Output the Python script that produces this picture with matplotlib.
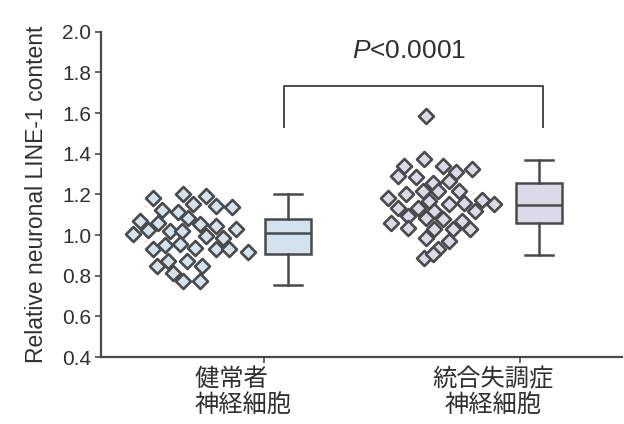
import matplotlib
matplotlib.use("Agg")
import matplotlib.pyplot as plt

plt.rcParams['font.family'] = ['Liberation Sans', 'Noto Sans CJK JP']
plt.rcParams['mathtext.fontset'] = 'custom'
plt.rcParams['mathtext.it'] = 'Liberation Sans:italic'
plt.rcParams['mathtext.rm'] = 'Liberation Sans'

# ---- data ----
categories = ["健常者　\n神経細胞", "統合失調症\n神経細胞"]
group1_values = [1.183, 1.203, 1.193, 1.154, 1.144, 1.139, 1.124, 1.114, 1.084, 1.069,
                 1.059, 1.054, 1.045, 1.030, 1.005, 1.025, 1.020, 1.020, 0.995, 0.985,
                 0.931, 0.951, 0.956, 0.936, 0.931, 0.931, 0.916, 0.847, 0.871, 0.871,
                 0.847, 0.812, 0.772, 0.772]
group1_jitter = [-0.431, -0.314, -0.224, -0.275, -0.188, -0.122, -0.396, -0.333, -0.294, -0.482,
                 -0.412, -0.247, -0.188, -0.110, -0.510, -0.451, -0.365, -0.318, -0.227, -0.157,
                 -0.431, -0.384, -0.325, -0.267, -0.188, -0.137, -0.063, -0.416, -0.373, -0.298,
                 -0.239, -0.353, -0.314, -0.247]
group2_values = [1.376, 1.342, 1.342, 1.312, 1.327, 1.292, 1.287, 1.258, 1.267, 1.218,
                 1.218, 1.218, 1.203, 1.183, 1.154, 1.168, 1.159, 1.173, 1.154, 1.134,
                 1.134, 1.119, 1.119, 1.094, 1.084, 1.079, 1.069, 1.060, 1.035, 1.030,
                 1.030, 1.030, 0.985, 0.970, 0.931, 0.886, 0.906, 1.584]
group2_jitter = [-0.373, -0.451, -0.298, -0.247, -0.188, -0.475, -0.404, -0.337, -0.278, -0.376,
                 -0.318, -0.239, -0.443, -0.514, -0.275, -0.353, -0.216, -0.149, -0.102, -0.475,
                 -0.396, -0.333, -0.176, -0.435, -0.365, -0.298, -0.227, -0.502, -0.435, -0.333,
                 -0.259, -0.196, -0.365, -0.278, -0.318, -0.373, -0.337, -0.365]
# box statistics: whislo, q1, med, q3, whishi
box1_stats = [0.753, 0.906, 1.010, 1.079, 1.203]
box2_stats = [0.901, 1.060, 1.149, 1.258, 1.371]
p_text = "$\\it{P}$<0.0001"
y_ticks = [0.4, 0.6, 0.8, 1.0, 1.2, 1.4, 1.6, 1.8, 2.0]
y_label = "Relative neuronal LINE-1 content"

# ---- style ----
edge = "#4a4a4a"
fill1 = "#d2e2ee"
fill2 = "#ddd8ea"
txt = "#303030"

fig = plt.figure(figsize=(6.24, 4.24), dpi=100)
ax = fig.add_axes([0.162, 0.158, 0.835, 0.767])

pos = [1, 2]
ax.scatter([pos[0] + j for j in group1_jitter], group1_values, marker='D', s=58,
           facecolor=fill1, edgecolor=edge, linewidth=1.9, zorder=3)
ax.scatter([pos[1] + j for j in group2_jitter], group2_values, marker='D', s=58,
           facecolor=fill2, edgecolor=edge, linewidth=1.9, zorder=3)

stats = []
for s in (box1_stats, box2_stats):
    stats.append(dict(whislo=s[0], q1=s[1], med=s[2], q3=s[3], whishi=s[4], fliers=[]))
bp = ax.bxp(stats, positions=[pos[0] + 0.094, pos[1] + 0.076], widths=0.18,
            patch_artist=True, showfliers=False,
            boxprops=dict(edgecolor=edge, linewidth=1.8),
            medianprops=dict(color=edge, linewidth=1.8),
            whiskerprops=dict(color=edge, linewidth=1.8),
            capprops=dict(color=edge, linewidth=1.8),
            capwidths=0.11)
for patch, c in zip(bp['boxes'], (fill1, fill2)):
    patch.set_facecolor(c)

# significance bracket
bx1, bx2, by_lo, by_hi = pos[0] + 0.08, pos[1] + 0.09, 1.53, 1.735
ax.plot([bx1, bx1, bx2, bx2], [by_lo, by_hi, by_hi, by_lo], color=edge, linewidth=1.4)
ax.text((bx1 + bx2) / 2 - 0.015, 1.905, p_text, ha='center', va='center',
        fontsize=19, color=txt)

ax.set_xlim(0.365, 2.4)
ax.set_ylim(0.4, 2.0)
ax.set_yticks(y_ticks)
ax.set_yticklabels([f"{t:.1f}" for t in y_ticks], fontsize=15, color=txt)
ax.set_xticks(pos)
ax.set_xticklabels([])
for x, lab in zip([pos[0] - 0.08, pos[1] - 0.105], categories):
    ax.text(x, -0.035, lab, transform=ax.get_xaxis_transform(), ha='center', va='top',
            fontsize=17.5, color=txt, linespacing=1.2)

ax.set_ylabel(y_label, fontsize=16.5, color=txt, labelpad=10)
for side in ('top', 'right'):
    ax.spines[side].set_visible(False)
for side in ('left', 'bottom'):
    ax.spines[side].set_color(edge)
    ax.spines[side].set_linewidth(1.6)
ax.tick_params(axis='both', direction='out', length=4, width=1.2, color=edge, pad=3)

fig.savefig("out.png", dpi=100)
